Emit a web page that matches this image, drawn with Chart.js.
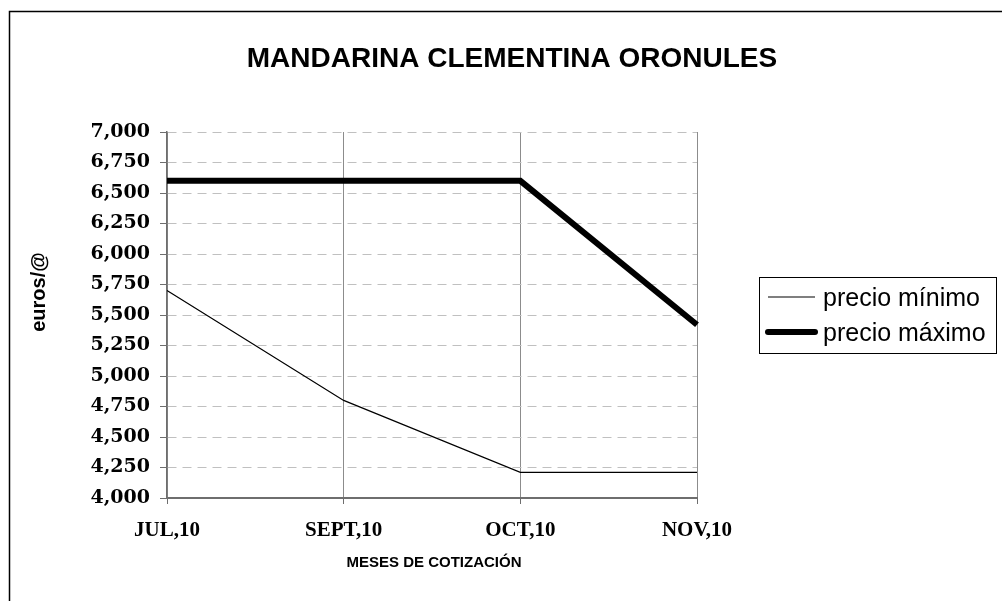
<!DOCTYPE html>
<html>
<head>
<meta charset="utf-8">
<script src="https://cdn.jsdelivr.net/npm/chart.js@4/dist/chart.umd.min.js"></script>
<style>
  html, body { margin: 0; padding: 0; background: #fff; }
  #wrap { width: 1002px; height: 601px; }
</style>
</head>
<body>
<div id="wrap"><canvas id="price-chart" width="1002" height="601"></canvas></div>
<script>
// datos del gráfico
const meses = ["JUL,10", "SEPT,10", "OCT,10", "NOV,10"];
const precioMinimo = [5.70, 4.80, 4.21, 4.21];
const precioMaximo = [6.60, 6.60, 6.60, 5.42];
const tituloGrafico = "MANDARINA CLEMENTINA ORONULES";
const tituloEjeY = "euros/@";
const tituloEjeX = "MESES DE COTIZACIÓN";

// textos, marco y leyenda dibujados a mano
const textosPlugin = {
    id: "textos",
    afterDraw(chart) {
        const ctx = chart.ctx;
        ctx.save();

        // marco exterior
        ctx.strokeStyle = "#000";
        ctx.lineWidth = 1.5;
        ctx.strokeRect(9.5, 11.5, 1200, 800);

        // título
        ctx.fillStyle = "#000";
        ctx.textAlign = "center";
        ctx.textBaseline = "alphabetic";
        ctx.font = "bold 28px 'Liberation Sans', Arial, sans-serif";
        ctx.fillText(tituloGrafico, 512, 67);

        // título eje X
        ctx.font = "bold 15px 'Liberation Sans', Arial, sans-serif";
        ctx.fillText(tituloEjeX, 434, 567, 176);

        // título eje Y
        ctx.save();
        ctx.translate(45, 292);
        ctx.rotate(-Math.PI / 2);
        ctx.font = "bold 20px 'Liberation Sans', Arial, sans-serif";
        ctx.fillText(tituloEjeY, 0, 0);
        ctx.restore();

        // leyenda
        ctx.lineWidth = 1;
        ctx.strokeStyle = "#000";
        ctx.strokeRect(759.5, 277.5, 237, 76);
        ctx.textAlign = "left";
        ctx.textBaseline = "alphabetic";
        ctx.font = "25px 'Liberation Sans', Arial, sans-serif";
        const filas = [297, 332];
        chart.data.datasets.forEach((ds, i) => {
            const y = filas[i];
            ctx.beginPath();
            ctx.strokeStyle = ds.borderColor;
            ctx.lineWidth = ds.borderWidth;
            ctx.lineCap = ds.borderWidth > 2 ? "round" : "butt";
            ctx.moveTo(768, y);
            ctx.lineTo(815, y);
            ctx.stroke();
            ctx.fillText(ds.label, 823, y + 9);
        });
        ctx.restore();
    }
};

const ctx = document.getElementById("price-chart").getContext("2d");
new Chart(ctx, {
    type: "line",
    data: {
        labels: meses,
        datasets: [{
            label: "precio mínimo",
            data: precioMinimo,
            borderColor: "#000",
            borderWidth: 1.2,
            pointRadius: 0,
            tension: 0,
            fill: false
        }, {
            label: "precio máximo",
            data: precioMaximo,
            borderColor: "#000",
            borderWidth: 6,
            borderCapStyle: "butt",
            pointRadius: 0,
            tension: 0,
            fill: false
        }]
    },
    options: {
        responsive: false,
        animation: false,
        layout: { padding: { left: 0, top: 132, right: 305, bottom: 0 } },
        plugins: {
            legend: { display: false },
            tooltip: { enabled: false }
        },
        scales: {
            x: {
                offset: false,
                afterFit(scale) { scale.height = 103; },
                grid: {
                    color: "#8c8c8c",
                    lineWidth: 1,
                    tickLength: 6,
                    tickColor: "#6e6e6e"
                },
                border: { color: "#6e6e6e", width: 2 },
                ticks: {
                    color: "#000",
                    padding: 14,
                    maxRotation: 0,
                    font: { family: "'Liberation Serif', 'Times New Roman', serif", size: 21, weight: "bold" }
                }
            },
            y: {
                min: 4,
                max: 7,
                afterFit(scale) { scale.width = 167; },
                grid: {
                    color: "#c0c0c0",
                    lineWidth: 1,
                    tickLength: 7,
                    tickColor: "#6e6e6e"
                },
                border: { color: "#6e6e6e", width: 1.5, dash: [9, 6] },
                ticks: {
                    stepSize: 0.25,
                    color: "#000",
                    padding: 10,
                    font: { family: "'DejaVu Serif', serif", size: 19, weight: "bold" },
                    callback: (v) => v.toFixed(3).replace(".", ",")
                }
            }
        }
    },
    plugins: [textosPlugin]
});
</script>
</body>
</html>
